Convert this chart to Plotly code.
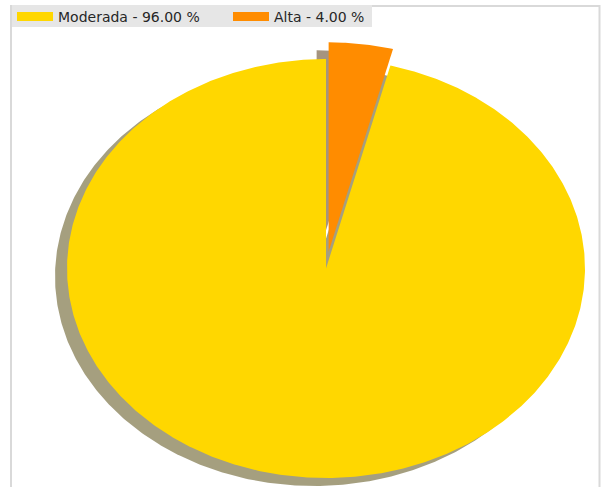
import numpy as np
import plotly.graph_objects as go

labels = ["Moderada", "Alta"]
values = [96.0, 4.0]
colors = ["#FFD700", "#FF8C00"]
shadow_colors = ["rgba(76,64,0,0.5)", "rgba(76,42,0,0.5)"]
explode = [0.0, 0.08]
start_angle = 90.0

W, H = 604, 487
cx_px, cy_px = 326.0, 268.5
rx_px, ry_px = 259.0, 209.5
shadow_dx, shadow_dy = -12.0 / rx_px, -8.0 / ry_px

total = sum(values)
fig = go.Figure()

wedges = []
theta = start_angle
for lab, val, ex in zip(labels, values, explode):
    t1 = theta
    t2 = theta + 360.0 * val / total
    mid = np.deg2rad((t1 + t2) / 2)
    ox, oy = ex * np.cos(mid), ex * np.sin(mid)
    ang = np.deg2rad(np.linspace(t1, t2, max(int((t2 - t1) * 2), 8)))
    xs = np.concatenate([[0], np.cos(ang), [0]]) + ox
    ys = np.concatenate([[0], np.sin(ang), [0]]) + oy
    wedges.append((lab, val, xs, ys))
    theta = t2

# shadows
for (lab, val, xs, ys), sc in zip(wedges, shadow_colors):
    fig.add_trace(go.Scatter(x=xs + shadow_dx, y=ys + shadow_dy, mode="lines",
                             fill="toself", fillcolor=sc, line=dict(width=0, color=sc),
                             showlegend=False, hoverinfo="skip"))
# wedges
for (lab, val, xs, ys), c in zip(wedges, colors):
    name = f"{lab} - {100 * val / total:.2f} %"
    fig.add_trace(go.Scatter(x=xs, y=ys, mode="lines", fill="toself", fillcolor=c,
                             line=dict(width=0, color=c), legendgroup=lab,
                             name=name, showlegend=False, hoverinfo="skip"))
    # legend entry (rectangular patch)
    fig.add_trace(go.Scatter(x=[None], y=[None], mode="lines", line=dict(width=9, color=c),
                             legendgroup=lab, name=name, showlegend=True, hoverinfo="skip"))

fig.update_layout(
    width=W, height=H,
    margin=dict(l=0, r=0, t=0, b=0),
    paper_bgcolor="white", plot_bgcolor="white",
    xaxis=dict(visible=False, range=[-cx_px / rx_px, (W - cx_px) / rx_px], fixedrange=True),
    yaxis=dict(visible=False, range=[-(H - cy_px) / ry_px, cy_px / ry_px], fixedrange=True),
    legend=dict(orientation="h", x=12 / W, y=1 - 1 / H, xanchor="left", yanchor="top",
                bgcolor="rgba(0,0,0,0)", borderwidth=0, itemwidth=36,
                entrywidth=165, entrywidthmode="pixels",
                font=dict(family="DejaVu Sans", size=14, color="#262626")),
    shapes=[
        dict(type="rect", xref="paper", yref="paper", x0=11 / W, x1=599.5 / W,
             y0=-0.05, y1=1 - 6 / H, line=dict(color="#d9d9d9", width=2), layer="below"),
        dict(type="rect", xref="paper", yref="paper", x0=12 / W, x1=372 / W,
             y0=1 - 27 / H, y1=1 - 5 / H, fillcolor="#e6e6e6", line=dict(width=0),
             layer="above"),
    ],
    showlegend=True,
)

fig.write_html("out.html", config={"displayModeBar": False},
               post_script="document.body.style.margin='0px';")
